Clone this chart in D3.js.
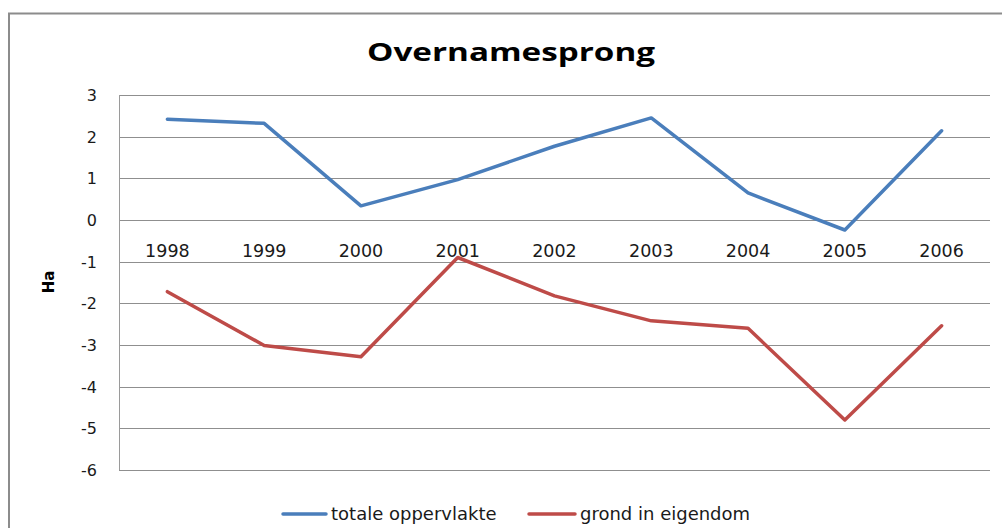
<!DOCTYPE html>
<html>
<head>
<meta charset="utf-8">
<script src="https://cdn.jsdelivr.net/npm/d3@7"></script>
<style>
  html, body { margin: 0; padding: 0; background: #fff; }
  svg { display: block; }
</style>
</head>
<body>
<svg id="chart" width="1002" height="528"></svg>
<script>
const years = ["1998","1999","2000","2001","2002","2003","2004","2005","2006"];
const totaleOppervlakte = [2.42, 2.32, 0.34, 0.97, 1.77, 2.45, 0.65, -0.24, 2.14];
const grondInEigendom = [-1.72, -3.01, -3.28, -0.90, -1.82, -2.42, -2.60, -4.80, -2.54];
const yTicks = [3, 2, 1, 0, -1, -2, -3, -4, -5, -6];
const titleText = "Overnamesprong";
const yLabel = "Ha";
const seriesNames = ["totale oppervlakte", "grond in eigendom"];
const seriesColors = ["#4A7EBB", "#BE4B48"];

const svg = d3.select("#chart");
const plot = { left: 119, right: 990, top: 95, bottom: 470 };

const x = d3.scaleBand().domain(years).range([plot.left, plot.right]).padding(0);
const y = d3.scaleLinear().domain([-6, 3]).range([plot.bottom, plot.top]);

// outer chart border (top and left visible)
svg.append("path")
  .attr("d", `M9,528 L9,13.5 L1002,13.5`)
  .attr("fill", "none")
  .attr("stroke", "#8c8c8c")
  .attr("stroke-width", 2);

// title
svg.append("text")
  .attr("x", 511).attr("y", 61)
  .attr("text-anchor", "middle")
  .attr("font-family", "'Open Sans', sans-serif")
  .attr("font-weight", "bold")
  .attr("font-size", 25.5)
  .attr("textLength", 288)
  .attr("lengthAdjust", "spacingAndGlyphs")
  .attr("fill", "#000")
  .text(titleText);

// gridlines
const yAxis = d3.axisLeft(y).tickValues(yTicks).tickSize(-(plot.right - plot.left)).tickFormat("");
const gGrid = svg.append("g").attr("transform", `translate(${plot.left},0)`).call(yAxis);
gGrid.select(".domain").remove();
gGrid.selectAll(".tick line").attr("stroke", "#8f8f8f").attr("stroke-width", 1)
  .attr("shape-rendering", "crispEdges");

// plot left border
svg.append("line")
  .attr("x1", plot.left + 0.5).attr("x2", plot.left + 0.5)
  .attr("y1", y(3)).attr("y2", y(-6))
  .attr("stroke", "#9a9a9a").attr("stroke-width", 1);

// y tick labels
svg.append("g").selectAll("text").data(yTicks).join("text")
  .attr("x", 97).attr("y", d => y(d) + 6)
  .attr("text-anchor", "end")
  .attr("font-family", "'DejaVu Sans', sans-serif")
  .attr("font-size", 16)
  .attr("fill", "#1a1a1a")
  .text(d => d);

// y axis title
svg.append("text")
  .attr("transform", `translate(54,282) rotate(-90)`)
  .attr("text-anchor", "middle")
  .attr("font-family", "'DejaVu Sans', sans-serif")
  .attr("font-weight", "bold")
  .attr("font-size", 15)
  .attr("fill", "#000")
  .text(yLabel);

// category labels
const cx = d => x(d) + x.bandwidth() / 2;
svg.append("g").selectAll("text").data(years).join("text")
  .attr("x", d => cx(d)).attr("y", 257)
  .attr("text-anchor", "middle")
  .attr("font-family", "'DejaVu Sans', sans-serif")
  .attr("font-size", 17.5)
  .attr("fill", "#1a1a1a")
  .text(d => d);

// lines
const line = d3.line().x((d, i) => cx(years[i])).y(d => y(d));
[totaleOppervlakte, grondInEigendom].forEach((vals, k) => {
  svg.append("path")
    .datum(vals)
    .attr("d", line)
    .attr("fill", "none")
    .attr("stroke", seriesColors[k])
    .attr("stroke-width", 3.5)
    .attr("stroke-linejoin", "round")
    .attr("stroke-linecap", "round");
});

// legend
const legendItems = [
  { name: seriesNames[0], color: seriesColors[0], x0: 283, x1: 326, tx: 331 },
  { name: seriesNames[1], color: seriesColors[1], x0: 529, x1: 575, tx: 580 }
];
const lg = svg.append("g");
legendItems.forEach(it => {
  lg.append("line")
    .attr("x1", it.x0).attr("x2", it.x1).attr("y1", 514).attr("y2", 514)
    .attr("stroke", it.color).attr("stroke-width", 3.5).attr("stroke-linecap", "round");
  lg.append("text")
    .attr("x", it.tx).attr("y", 520)
    .attr("font-family", "'DejaVu Sans', sans-serif")
    .attr("font-size", 18)
    .attr("fill", "#1a1a1a")
    .text(it.name);
});
</script>
</body>
</html>
